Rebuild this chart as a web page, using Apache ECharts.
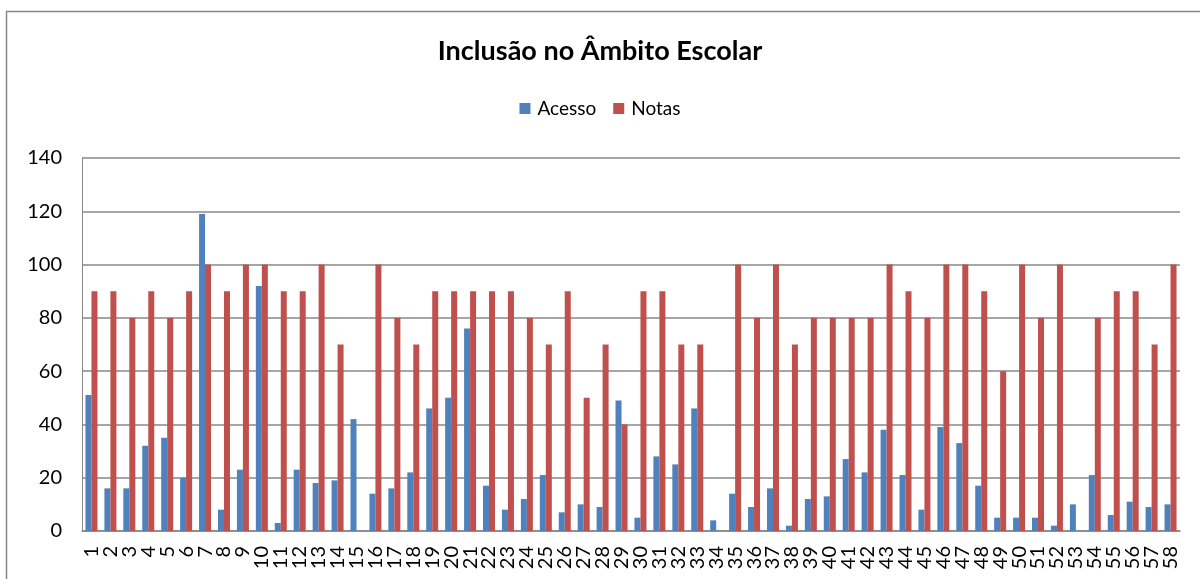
<!DOCTYPE html>
<html>
<head>
<meta charset="utf-8">
<script src="https://cdn.jsdelivr.net/npm/echarts@6/dist/echarts.min.js"></script>
<style>html,body{margin:0;padding:0;background:#fff}#c{width:1200px;height:579px}</style>
</head>
<body>
<div id="c"></div>
<script>
var categories = [];
for (var i = 1; i <= 58; i++) categories.push(String(i));
var acesso = [51,16,16,32,35,20,119,8,23,92,3,23,18,19,42,14,16,22,46,50,76,17,8,12,21,7,10,9,49,5,28,25,46,4,14,9,16,2,12,13,27,22,38,21,8,39,33,17,5,5,5,2,10,21,6,11,9,10];
var notas = [90,90,80,90,80,90,100,90,100,100,90,90,100,70,0,100,80,70,90,90,90,90,90,80,70,90,50,70,40,90,90,70,70,0,100,80,100,70,80,80,80,80,100,90,80,100,100,90,60,100,80,100,0,80,90,90,70,100];
var titleText = 'Inclusão no Âmbito Escolar';
var seriesNames = ['Acesso', 'Notas'];

var chart = echarts.init(document.getElementById('c'), null, {renderer: 'canvas'});
var font = 'Lato, "Open Sans", sans-serif';
chart.setOption({
  animation: false,
  graphic: [{type: 'rect', shape: {x: 6.5, y: 11.5, width: 1300, height: 700}, style: {fill: 'none', stroke: '#888', lineWidth: 1.5}, z: -1}],
  title: {text: titleText, left: 'center', top: 33, textStyle: {fontFamily: font, fontSize: 27, fontWeight: 'bold', color: '#000'}},
  legend: {data: seriesNames, top: 94, left: 'center', itemWidth: 11, itemHeight: 11, itemGap: 17, icon: 'rect',
    textStyle: {fontFamily: font, fontSize: 19, color: '#000', padding: [0, 0, 0, 2]}},
  grid: {left: 82, right: 20, top: 158, bottom: 48, containLabel: false},
  xAxis: {type: 'category', data: categories,
    axisLine: {lineStyle: {color: '#888', width: 1.5}},
    axisTick: {show: false},
    axisLabel: {interval: 0, rotate: 90, fontFamily: font, fontSize: 20, color: '#000', margin: 15}},
  yAxis: {type: 'value', min: 0, max: 140, interval: 20,
    axisLine: {show: true, lineStyle: {color: '#888', width: 1}},
    axisTick: {show: false},
    splitLine: {lineStyle: {color: '#888', width: 1.5}},
    axisLabel: {fontFamily: font, fontSize: 20, color: '#000', margin: 20}},
  series: [
    {name: seriesNames[0], type: 'bar', data: acesso, barWidth: 6, barGap: '0%', itemStyle: {color: '#4F81BD'}},
    {name: seriesNames[1], type: 'bar', data: notas, barWidth: 6, barGap: '0%', itemStyle: {color: '#C0504D'}}
  ]
});
</script>
</body>
</html>
